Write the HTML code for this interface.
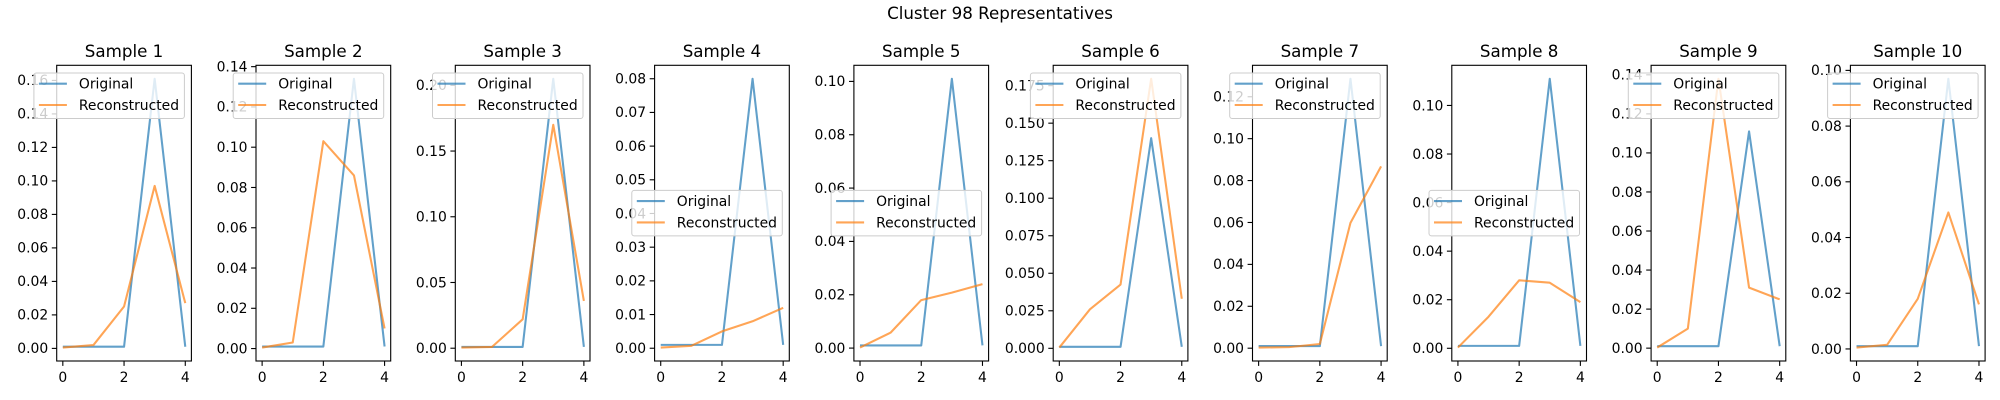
<!DOCTYPE html>
<html><head><meta charset="utf-8">
<style>
html,body{margin:0;padding:0;background:#fff;}
svg{display:block;font-family:"DejaVu Sans","Liberation Sans",sans-serif;}
</style></head>
<body>
<svg id="fig" width="2000" height="400" viewBox="0 0 2000 400" xmlns="http://www.w3.org/2000/svg">
<rect width="2000" height="400" fill="#fff"/>
<text x="1000" y="19" text-anchor="middle" font-size="16.7" fill="#000">Cluster 98 Representatives</text>
</svg>
<script>
const xValues = [0, 1, 2, 3, 4];
const xTicks = [0, 2, 4];
const sampleTitles = ["Sample 1","Sample 2","Sample 3","Sample 4","Sample 5","Sample 6","Sample 7","Sample 8","Sample 9","Sample 10"];
const originalSeries = [
  [0.001,0.001,0.001,0.161,0.001],
  [0.001,0.001,0.001,0.134,0.001],
  [0.001,0.001,0.001,0.205,0.001],
  [0.001,0.001,0.001,0.080,0.001],
  [0.001,0.001,0.001,0.101,0.001],
  [0.001,0.001,0.001,0.140,0.001],
  [0.001,0.001,0.001,0.1286,0.001],
  [0.001,0.001,0.001,0.111,0.001],
  [0.001,0.001,0.001,0.111,0.001],
  [0.001,0.001,0.001,0.097,0.001]
];
const reconstructedSeries = [
  [0.0005,0.002,0.025,0.097,0.027],
  [0.0005,0.003,0.103,0.086,0.010],
  [0.0005,0.001,0.022,0.170,0.036],
  [0.0002,0.0007,0.005,0.008,0.012],
  [0.0002,0.0058,0.018,0.0208,0.024],
  [0.0005,0.026,0.0425,0.1796,0.033],
  [0.0003,0.0005,0.002,0.0598,0.0868],
  [0.0003,0.013,0.028,0.027,0.019],
  [0.0003,0.010,0.138,0.031,0.025],
  [0.0005,0.0015,0.018,0.049,0.016]
];
const yTickLabels = [
  ["0.00","0.02","0.04","0.06","0.08","0.10","0.12","0.14","0.16"],
  ["0.00","0.02","0.04","0.06","0.08","0.10","0.12","0.14"],
  ["0.00","0.05","0.10","0.15","0.20"],
  ["0.00","0.01","0.02","0.03","0.04","0.05","0.06","0.07","0.08"],
  ["0.00","0.02","0.04","0.06","0.08","0.10"],
  ["0.000","0.025","0.050","0.075","0.100","0.125","0.150","0.175"],
  ["0.00","0.02","0.04","0.06","0.08","0.10","0.12"],
  ["0.00","0.02","0.04","0.06","0.08","0.10"],
  ["0.00","0.02","0.04","0.06","0.08","0.10","0.12","0.14"],
  ["0.00","0.02","0.04","0.06","0.08","0.10"]
];
const legendPlacement = ["upper","upper","upper","center","center","upper","upper","center","upper","upper"];

const NS = "http://www.w3.org/2000/svg";
const svg = document.getElementById("fig");
function mk(tag, attrs, parent){
  const e = document.createElementNS(NS, tag);
  for (const k in attrs) e.setAttribute(k, attrs[k]);
  (parent||svg).appendChild(e);
  return e;
}
const AX_L0 = 56.7, AX_STEP = 199.3, AX_W = 134.7, AX_T = 65.3, AX_B = 361;
const BLUE = "#1f77b4", ORANGE = "#ff7f0e";

sampleTitles.forEach((title, i) => {
  const L = AX_L0 + i*AX_STEP, R = L + AX_W;
  const g = mk("g", {});
  
  
  const all = originalSeries[i].concat(reconstructedSeries[i]);
  const mn = Math.min(...all), mx = Math.max(...all), rg = mx - mn;
  const y0 = mn - 0.05*rg, y1 = mx + 0.05*rg;
  const xs = v => L + (v + 0.2) / 4.4 * AX_W;
  const ys = v => AX_B - (v - y0) / (y1 - y0) * (AX_B - AX_T);

  // lines
  [[originalSeries[i], BLUE, 'original-line'], [reconstructedSeries[i], ORANGE, 'reconstructed-line']].forEach(([vals, col, nm]) => {
    const p = mk("polyline", {points: vals.map((v, k) => xs(xValues[k]).toFixed(2) + "," + ys(v).toFixed(2)).join(" "), fill: "none", stroke: col, "stroke-width": 2.08, "stroke-opacity": 0.7, "stroke-linejoin": "round"}, g);
    
    
  });

  // axes frame
  const fr = mk("rect", {x: L, y: AX_T, width: AX_W, height: AX_B - AX_T, fill: "none", stroke: "#000", "stroke-width": 1.1}, g);
  
  

  // y ticks
  yTickLabels[i].forEach(lbl => {
    const y = ys(parseFloat(lbl));
    mk("line", {x1: L - 4.9, x2: L, y1: y, y2: y, stroke: "#000", "stroke-width": 1.1}, g);
    const t = mk("text", {x: L - 8.5, y: y + 4.8, "text-anchor": "end", "font-size": 13.9, fill: "#000"}, g);
    t.textContent = lbl;
    
    
  });
  // x ticks
  xTicks.forEach(v => {
    const x = xs(v);
    mk("line", {x1: x, x2: x, y1: AX_B, y2: AX_B + 4.9, stroke: "#000", "stroke-width": 1.1}, g);
    const t = mk("text", {x: x, y: AX_B + 21, "text-anchor": "middle", "font-size": 13.9, fill: "#000"}, g);
    t.textContent = v;
    
    
  });
  // title
  const tt = mk("text", {x: (L + R)/2, y: 57, "text-anchor": "middle", "font-size": 16.7, fill: "#000"}, g);
  tt.textContent = title;
  
  

  // legend
  const LW = 150.5, LH = 45.5;
  const lx = R - 7 - LW;
  const ly = legendPlacement[i] === "upper" ? AX_T + 7.7 : (AX_T + AX_B)/2 - LH/2;
  const lg = mk("g", {}, g);
  
  
  mk("rect", {x: lx, y: ly, width: LW, height: LH, rx: 2.5, fill: "#fff", "fill-opacity": 0.8, stroke: "#cccccc", "stroke-width": 1}, lg);
  [["Original", BLUE, 10.7], ["Reconstructed", ORANGE, 32]].forEach(([name, col, dy]) => {
    const e = mk("g", {}, lg);
    
    
    mk("line", {x1: lx + 5, x2: lx + 33, y1: ly + dy, y2: ly + dy, stroke: col, "stroke-width": 2.08, "stroke-opacity": 0.7}, e);
    const t = mk("text", {x: lx + 45, y: ly + dy + 5, "font-size": 13.9, fill: "#000"}, e);
    t.textContent = name;
  });
});
</script>
</body></html>
